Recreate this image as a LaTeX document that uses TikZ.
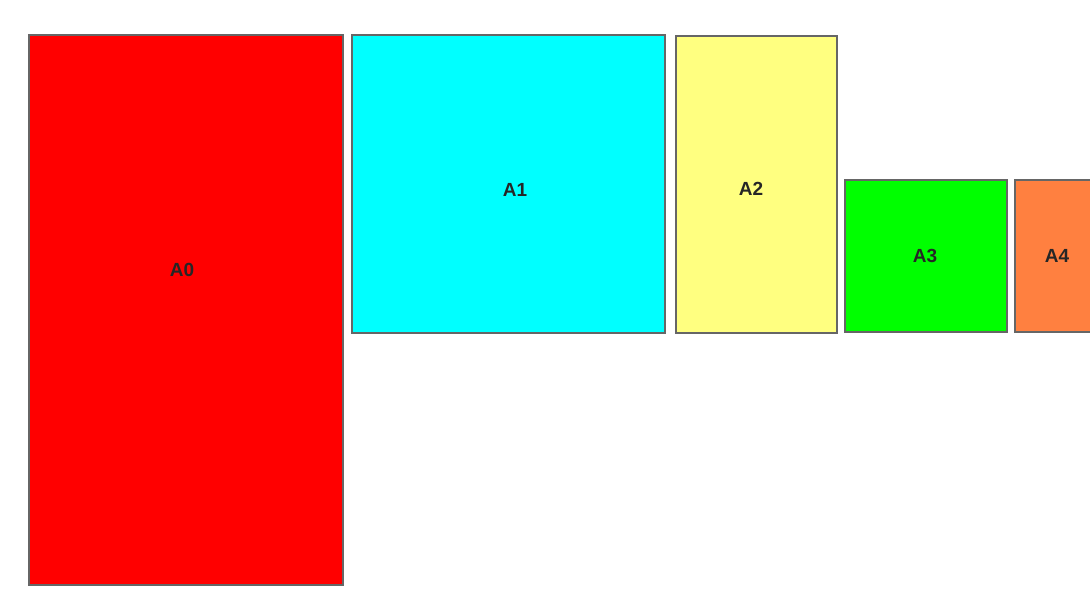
\documentclass[tikz,border=0pt]{standalone}
\usepackage{fontspec}
\setmainfont{Liberation Sans}
\begin{document}
\begin{tikzpicture}[x=1pt,y=-1pt,
  sheet/.style={draw=black!60,line width=1.3pt},
  lbl/.style={font=\fontsize{19}{22}\selectfont\bfseries,text=black!85}]
\useasboundingbox (0,0) rectangle (1090,595);
\fill[white] (0,0) rectangle (1090,595);
\draw[sheet,fill={rgb,255:red,255;green,0;blue,0}] (29,35) rectangle (343,585);
\draw[sheet,fill={rgb,255:red,0;green,255;blue,255}] (352,35) rectangle (665,333);
\draw[sheet,fill={rgb,255:red,255;green,255;blue,128}] (676,36) rectangle (837,333);
\draw[sheet,fill={rgb,255:red,0;green,255;blue,0}] (845,180) rectangle (1007,332);
\draw[sheet,fill={rgb,255:red,255;green,128;blue,64}] (1015,180) rectangle (1095,332);
\node[lbl] (a0) at (182,270) {A0};
\node[lbl] (a1) at (515,190) {A1};
\node[lbl] (a2) at (751,189) {A2};
\node[lbl] (a3) at (925,256) {A3};
\node[lbl] (a4) at (1057,256) {A4};
\end{tikzpicture}
\end{document}
